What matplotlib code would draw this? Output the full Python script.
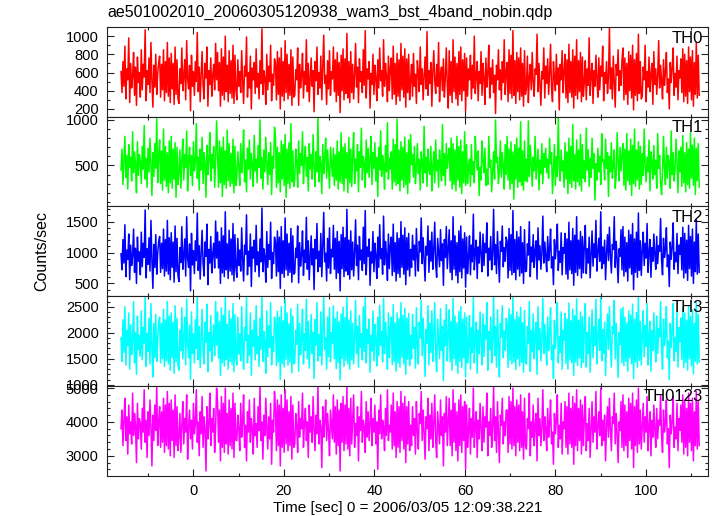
import numpy as np
import matplotlib
matplotlib.use("Agg")
from matplotlib import pyplot as plt
from matplotlib.ticker import MultipleLocator

plt.rcParams['font.family'] = ['Liberation Sans', 'DejaVu Sans']

# light curve bins: start time and bin width [sec]
t_start = -16.0
bin_size = 0.2133

title = "ae501002010_20060305120938_wam3_bst_4band_nobin.qdp"
xlabel = "Time [sec] 0 = 2006/03/05 12:09:38.221"
ylabel = "Counts/sec"

band_names = ["TH0", "TH1", "TH2", "TH3", "TH0123"]
band_colors = ["#ff0000", "#00ff00", "#0000ff", "#00ffff", "#ff00ff"]

th0 = [
    610, 380, 720, 450, 890, 310, 640, 520, 980, 270, 700, 430, 560, 820, 350, 660, 240, 770, 490, 600,
    330, 850, 410, 690, 550, 1070, 290, 620, 470, 760, 380, 930, 510, 220, 680, 440, 800, 360, 590, 710,
    780, 330, 690, 410, 850, 290, 720, 380, 930, 340, 760, 270, 810, 420, 700, 250, 880, 360, 740, 310,
    260, 640, 480, 870, 400, 560, 740, 300, 950, 530, 420, 680, 180, 790, 450, 610, 350, 720, 500, 1040,
    390, 660, 280, 580, 830, 460, 310, 700, 540, 880, 230, 620, 470, 760, 340, 570, 690, 410, 920, 520,
    820, 400, 710, 230, 860, 350, 770, 300, 1000, 390, 680, 280, 840, 370, 730, 320, 900, 260, 790, 410,
    300, 740, 450, 610, 380, 840, 500, 260, 670, 560, 990, 330, 600, 430, 780, 200, 650, 520, 710, 370,
    860, 440, 590, 310, 730, 480, 1080, 360, 620, 540, 250, 800, 410, 670, 500, 900, 290, 580, 460, 750,
    700, 300, 830, 360, 760, 200, 870, 340, 720, 290, 950, 380, 800, 310, 690, 350, 850, 240, 770, 330,
    350, 630, 520, 870, 240, 690, 430, 560, 810, 320, 610, 470, 960, 390, 700, 280, 540, 760, 450, 620,
    170, 720, 510, 880, 360, 600, 430, 780, 300, 650, 1010, 480, 570, 250, 730, 420, 840, 350, 610, 530,
    880, 390, 740, 280, 820, 350, 710, 160, 790, 400, 860, 300, 750, 370, 1030, 320, 720, 270, 830, 380,
    690, 310, 580, 920, 440, 660, 270, 750, 500, 610, 380, 850, 460, 1060, 320, 640, 530, 720, 210, 590,
    470, 800, 360, 680, 540, 290, 740, 430, 870, 510, 620, 340, 960, 450, 700, 560, 280, 780, 400, 650,
    760, 310, 890, 360, 700, 250, 810, 340, 740, 290, 920, 410, 780, 330, 860, 220, 750, 380, 800, 300,
    520, 690, 340, 810, 450, 580, 260, 730, 610, 390, 880, 470, 640, 300, 560, 770, 420, 1050, 350, 620,
    480, 710, 230, 600, 840, 510, 370, 690, 450, 930, 280, 580, 660, 400, 750, 330, 540, 870, 460, 210,
    840, 350, 720, 270, 960, 390, 770, 310, 700, 240, 830, 360, 880, 290, 740, 400, 810, 180, 760, 340,
    640, 520, 790, 310, 680, 430, 1000, 370, 560, 720, 290, 610, 480, 830, 350, 700, 540, 250, 760, 440,
    590, 900, 320, 650, 470, 740, 380, 570, 150, 680, 520, 850, 410, 630, 300, 720, 490, 960, 360, 600,
    710, 280, 850, 370, 790, 320, 1060, 350, 730, 260, 820, 390, 760, 300, 870, 340, 700, 230, 840, 360,
    440, 780, 270, 550, 690, 410, 820, 500, 340, 640, 580, 1020, 390, 700, 460, 240, 610, 530, 870, 320,
    670, 480, 750, 360, 590, 910, 430, 280, 720, 550, 400, 800, 470, 650, 190, 690, 520, 840, 380, 610,
    800, 320, 740, 270, 910, 380, 720, 330, 850, 210, 780, 350, 960, 310, 730, 390, 820, 280, 770, 340,
    500, 730, 300, 640, 460, 980, 350, 580, 700, 260, 620, 450, 790, 530, 330, 760, 410, 670, 560, 890,
    290, 600, 480, 720, 370, 540, 1090, 420, 650, 310, 780, 500, 220, 690, 570, 850, 400, 620, 460, 740,
    870, 300, 760, 360, 700, 250, 830, 400, 790, 320, 900, 190, 740, 350, 810, 290, 1020, 370, 720, 310,
    340, 660, 520, 900, 280, 610, 440, 770, 390, 580, 700, 250, 830, 470, 640, 360, 560, 950, 430, 680,
    510, 310, 740, 460, 600, 820, 380, 530, 200, 710, 490, 650, 870, 350, 590, 440, 780, 300, 620, 540,
    750, 380, 860, 280, 800, 340, 730, 260, 880, 390, 770, 300, 840, 230, 710, 360, 930, 320, 790, 350,
]

th1 = [
    450, 680, 290, 560, 820, 370, 610, 240, 730, 480, 590, 330, 870, 420, 650, 510, 200, 760, 390, 620,
    540, 300, 710, 460, 940, 350, 580, 260, 690, 430, 800, 520, 170, 640, 380, 740, 470, 1020, 310, 600,
    780, 300, 660, 230, 900, 340, 710, 270, 640, 200, 770, 310, 820, 250, 680, 350, 750, 150, 700, 290,
    410, 670, 250, 560, 790, 340, 620, 480, 880, 220, 550, 700, 390, 610, 280, 760, 440, 530, 960, 360,
    590, 230, 680, 450, 810, 300, 640, 520, 150, 720, 400, 570, 860, 330, 620, 470, 710, 260, 550, 990,
    640, 260, 770, 310, 700, 160, 810, 290, 660, 250, 890, 330, 740, 270, 630, 300, 790, 200, 710, 280,
    380, 650, 490, 280, 740, 420, 600, 890, 320, 560, 210, 690, 460, 780, 350, 630, 510, 270, 830, 440,
    570, 310, 720, 480, 1000, 360, 590, 240, 670, 430, 810, 520, 290, 640, 400, 750, 180, 600, 470, 920,
    810, 260, 700, 310, 640, 210, 770, 350, 730, 280, 840, 150, 680, 300, 750, 250, 960, 320, 660, 270,
    340, 680, 550, 260, 770, 410, 630, 500, 870, 300, 560, 710, 380, 590, 220, 740, 460, 620, 350, 840,
    490, 270, 650, 430, 1030, 320, 600, 520, 190, 730, 410, 580, 800, 360, 670, 450, 250, 700, 540, 380,
    690, 280, 620, 340, 770, 240, 650, 320, 860, 300, 700, 220, 740, 360, 640, 200, 810, 310, 680, 270,
    620, 860, 300, 570, 440, 730, 210, 650, 480, 910, 340, 600, 530, 260, 780, 420, 690, 370, 560, 820,
    290, 640, 470, 750, 330, 590, 160, 700, 450, 880, 380, 610, 510, 240, 720, 430, 970, 350, 580, 460,
    650, 240, 790, 320, 730, 280, 1010, 300, 670, 220, 760, 340, 700, 260, 810, 290, 640, 190, 780, 310,
    840, 510, 620, 370, 710, 300, 480, 740, 410, 570, 230, 650, 530, 310, 930, 420, 590, 270, 680, 460,
    400, 710, 220, 490, 650, 310, 780, 440, 560, 260, 670, 510, 330, 950, 390, 630, 280, 740, 470, 590,
    690, 330, 800, 240, 740, 290, 670, 220, 820, 340, 710, 260, 780, 190, 650, 310, 870, 280, 730, 300,
    490, 570, 270, 730, 400, 540, 310, 820, 600, 450, 660, 170, 480, 340, 770, 550, 420, 690, 280, 460,
    290, 820, 480, 560, 210, 420, 650, 350, 1000, 530, 590, 300, 460, 770, 370, 640, 500, 240, 730, 400,
    820, 340, 680, 240, 760, 300, 650, 130, 730, 350, 800, 260, 690, 320, 980, 280, 660, 230, 770, 330,
    570, 320, 990, 380, 720, 510, 270, 590, 440, 820, 350, 520, 680, 230, 560, 410, 740, 300, 630, 480,
    690, 420, 570, 360, 800, 520, 640, 190, 450, 730, 280, 600, 380, 1040, 490, 330, 670, 440, 550, 260,
    750, 350, 650, 190, 800, 300, 710, 260, 950, 330, 620, 240, 780, 320, 670, 280, 840, 220, 730, 360,
    550, 320, 910, 450, 670, 270, 580, 370, 800, 470, 630, 120, 520, 340, 690, 430, 600, 290, 850, 540,
    560, 340, 790, 470, 640, 160, 600, 430, 750, 360, 500, 670, 250, 390, 860, 540, 330, 700, 440, 620,
    740, 280, 680, 230, 850, 330, 660, 290, 790, 170, 720, 300, 900, 270, 670, 340, 760, 240, 710, 290,
    630, 390, 900, 510, 320, 590, 430, 780, 220, 650, 530, 350, 720, 400, 560, 250, 850, 470, 610, 300,
    180, 420, 820, 490, 290, 700, 360, 610, 530, 250, 880, 400, 640, 330, 460, 790, 550, 200, 660, 430,
    700, 270, 830, 310, 640, 210, 750, 290, 680, 250, 860, 360, 720, 280, 800, 180, 690, 330, 740, 260,
]

th2 = [
    980, 720, 1210, 830, 1450, 610, 1040, 890, 1300, 560, 1120, 790, 950, 1380, 680, 1070, 500, 1250, 860, 1010,
    640, 1330, 770, 1150, 920, 1690, 590, 1060, 810, 1240, 700, 1520, 880, 420, 1130, 760, 1290, 650, 990, 1180,
    1260, 680, 1150, 740, 1380, 620, 1210, 700, 1520, 650, 1240, 560, 1320, 760, 1170, 520, 1430, 690, 1230, 630,
    530, 1080, 840, 1420, 730, 960, 1220, 620, 1580, 900, 760, 1140, 380, 1310, 800, 1030, 660, 1190, 870, 1640,
    710, 1110, 570, 1000, 1360, 820, 620, 1170, 940, 1460, 480, 1050, 830, 1260, 670, 980, 1150, 750, 1510, 910,
    1330, 750, 1180, 500, 1400, 670, 1270, 610, 1660, 720, 1140, 580, 1360, 700, 1220, 640, 1470, 540, 1290, 760,
    600, 1230, 790, 1040, 700, 1400, 880, 540, 1120, 970, 1610, 640, 1020, 780, 1300, 450, 1090, 910, 1200, 690,
    1440, 800, 1010, 610, 1220, 850, 1720, 690, 1060, 930, 520, 1340, 760, 1130, 890, 1490, 580, 1000, 820, 1250,
    1170, 620, 1350, 690, 1250, 420, 1420, 660, 1190, 600, 1560, 720, 1300, 630, 1150, 680, 1390, 520, 1270, 650,
    670, 1070, 920, 1430, 510, 1160, 780, 960, 1350, 630, 1040, 840, 1570, 730, 1190, 560, 940, 1270, 800, 1060,
    400, 1210, 900, 1470, 690, 1020, 770, 1310, 610, 1100, 1650, 850, 990, 540, 1230, 750, 1400, 660, 1050, 930,
    1440, 730, 1230, 580, 1340, 670, 1180, 380, 1290, 740, 1410, 610, 1240, 700, 1700, 640, 1200, 570, 1350, 720,
    1170, 620, 1000, 1530, 790, 1120, 560, 1260, 880, 1040, 710, 1410, 820, 1680, 640, 1090, 940, 1220, 470, 1010,
    830, 1340, 690, 1150, 950, 580, 1250, 760, 1450, 900, 1060, 650, 1590, 800, 1180, 970, 550, 1300, 740, 1110,
    1250, 630, 1460, 690, 1160, 540, 1320, 660, 1230, 600, 1500, 760, 1280, 650, 1400, 480, 1240, 720, 1310, 620,
    1050, 760, 1280, 880, 1120, 620, 1390, 940, 700, 1180, 1010, 1560, 820, 1240, 900, 540, 1100, 960, 1430, 680,
    1190, 860, 1330, 730, 1040, 1490, 810, 600, 1230, 990, 770, 1370, 870, 1140, 470, 1210, 920, 1420, 740, 1060,
    1370, 680, 1190, 560, 1580, 730, 1270, 630, 1160, 510, 1350, 690, 1430, 590, 1220, 750, 1320, 440, 1250, 660,
    930, 1270, 640, 1120, 850, 1620, 720, 1010, 1200, 580, 1090, 830, 1330, 960, 690, 1300, 790, 1150, 1000, 1480,
    620, 1070, 880, 1260, 720, 980, 1700, 800, 1130, 660, 1340, 910, 520, 1180, 1020, 1430, 770, 1080, 860, 1250,
    1180, 590, 1390, 710, 1290, 640, 1680, 680, 1210, 560, 1340, 730, 1250, 620, 1420, 670, 1160, 500, 1370, 690,
    700, 1140, 960, 1500, 610, 1090, 850, 1290, 760, 1030, 1190, 570, 1400, 880, 1110, 730, 990, 1590, 830, 1170,
    950, 690, 1260, 870, 1050, 1380, 750, 930, 480, 1210, 900, 1100, 1460, 710, 1020, 840, 1320, 640, 1080, 990,
    1310, 650, 1220, 570, 1490, 720, 1190, 660, 1390, 470, 1280, 680, 1580, 630, 1200, 740, 1340, 590, 1260, 670,
    1120, 1440, 660, 1060, 830, 1250, 590, 980, 1350, 780, 1140, 920, 1520, 700, 1010, 1230, 860, 1660, 740, 1090,
    820, 1200, 560, 1000, 1290, 870, 1410, 950, 670, 1130, 1050, 1580, 760, 1180, 890, 510, 1060, 940, 1370, 720,
    1420, 620, 1250, 690, 1160, 540, 1360, 750, 1290, 650, 1470, 400, 1220, 680, 1330, 600, 1640, 710, 1190, 630,
    1030, 1330, 790, 1150, 910, 1470, 680, 1000, 1210, 600, 1080, 860, 1300, 980, 730, 1260, 820, 1110, 1020, 1550,
    880, 640, 1230, 920, 1040, 1400, 770, 960, 450, 1170, 890, 1090, 1480, 730, 1000, 850, 1310, 660, 1120, 970,
    1240, 720, 1410, 590, 1310, 670, 1200, 550, 1440, 740, 1260, 620, 1380, 500, 1170, 690, 1530, 650, 1300, 680,
]

th3 = [
    1900, 1450, 2250, 1620, 2500, 1380, 2050, 1750, 2380, 1300, 2150, 1580, 1850, 2600, 1420, 2000, 1200, 2320, 1680, 1950,
    1550, 2420, 1480, 2100, 1800, 2700, 1350, 1980, 1640, 2280, 1400, 2560, 1720, 1150, 2180, 1520, 2350, 1450, 1880, 2200,
    2300, 1420, 2180, 1500, 2450, 1350, 2250, 1460, 2600, 1400, 2320, 1280, 2380, 1530, 2200, 1220, 2520, 1440, 2280, 1380,
    1280, 2050, 1660, 2480, 1500, 1920, 2300, 1380, 2650, 1780, 1520, 2150, 1100, 2400, 1600, 1980, 1420, 2250, 1700, 2690,
    1480, 2120, 1330, 1900, 2450, 1620, 1400, 2200, 1820, 2550, 1250, 2000, 1650, 2330, 1450, 1880, 2150, 1560, 2600, 1760,
    2400, 1510, 2220, 1180, 2480, 1420, 2330, 1360, 2700, 1480, 2160, 1300, 2420, 1450, 2260, 1390, 2560, 1250, 2350, 1520,
    1380, 2300, 1590, 1980, 1460, 2500, 1720, 1300, 2100, 1850, 2680, 1420, 1950, 1570, 2380, 1180, 2050, 1740, 2240, 1480,
    2520, 1600, 1920, 1350, 2280, 1680, 2700, 1450, 2020, 1800, 1220, 2420, 1540, 2130, 1720, 2580, 1380, 1920, 1640, 2300,
    2200, 1370, 2410, 1440, 2300, 1100, 2500, 1410, 2230, 1340, 2640, 1490, 2380, 1380, 2170, 1440, 2460, 1230, 2320, 1400,
    1440, 2050, 1780, 2550, 1260, 2180, 1580, 1860, 2450, 1400, 1980, 1660, 2640, 1500, 2220, 1320, 1820, 2350, 1600, 2000,
    1120, 2250, 1760, 2580, 1460, 1960, 1560, 2400, 1380, 2080, 2700, 1680, 1900, 1300, 2300, 1540, 2480, 1440, 2000, 1800,
    2520, 1500, 2270, 1310, 2400, 1430, 2210, 1090, 2360, 1510, 2490, 1350, 2290, 1460, 2720, 1400, 2240, 1300, 2420, 1480,
    2180, 1400, 1920, 2620, 1600, 2120, 1340, 2330, 1720, 1980, 1480, 2500, 1640, 2700, 1420, 2060, 1800, 2260, 1240, 1950,
    1650, 2420, 1460, 2160, 1840, 1360, 2300, 1560, 2530, 1760, 2020, 1440, 2660, 1600, 2200, 1880, 1300, 2380, 1520, 2100,
    2300, 1390, 2540, 1450, 2190, 1260, 2380, 1420, 2270, 1340, 2580, 1530, 2330, 1400, 2470, 1200, 2280, 1490, 2370, 1370,
    1950, 1500, 2350, 1700, 2100, 1320, 2480, 1780, 1400, 2200, 1900, 2620, 1560, 2280, 1720, 1160, 2060, 1800, 2520, 1380,
    2180, 1620, 2420, 1450, 1980, 2580, 1560, 1250, 2260, 1860, 1500, 2460, 1660, 2120, 1080, 2240, 1750, 2540, 1460, 2000,
    2440, 1440, 2220, 1280, 2660, 1500, 2320, 1380, 2190, 1220, 2410, 1450, 2500, 1330, 2260, 1520, 2380, 1150, 2300, 1420,
    1760, 2330, 1300, 2100, 1620, 2690, 1420, 1900, 2200, 1220, 2050, 1600, 2400, 1820, 1380, 2360, 1540, 2140, 1880, 2580,
    1280, 2020, 1680, 2300, 1420, 1860, 2720, 1560, 2120, 1340, 2440, 1740, 1150, 2180, 1920, 2520, 1520, 2030, 1660, 2280,
    2210, 1330, 2460, 1470, 2350, 1400, 2710, 1440, 2250, 1290, 2400, 1500, 2300, 1360, 2490, 1430, 2190, 1240, 2430, 1450,
    1400, 2120, 1800, 2600, 1260, 2040, 1640, 2360, 1500, 1940, 2200, 1200, 2500, 1680, 2080, 1460, 1880, 2660, 1600, 2160,
    1800, 1380, 2300, 1660, 1980, 2480, 1480, 1760, 1120, 2240, 1700, 2060, 2580, 1420, 1920, 1620, 2400, 1300, 2040, 1860,
    2370, 1410, 2260, 1300, 2570, 1480, 2230, 1420, 2450, 1180, 2330, 1440, 2650, 1370, 2240, 1510, 2400, 1330, 2310, 1430,
    2100, 2560, 1340, 2000, 1600, 2300, 1240, 1860, 2440, 1520, 2120, 1760, 2640, 1400, 1900, 2260, 1660, 2700, 1460, 2060,
    1600, 2200, 1180, 1900, 2360, 1680, 2500, 1800, 1340, 2120, 1980, 2620, 1500, 2180, 1720, 1140, 2000, 1780, 2460, 1420,
    2490, 1370, 2300, 1450, 2190, 1260, 2420, 1520, 2340, 1400, 2550, 1120, 2260, 1440, 2390, 1340, 2690, 1470, 2220, 1380,
    1940, 2420, 1540, 2140, 1740, 2560, 1380, 1900, 2220, 1260, 2040, 1660, 2380, 1860, 1440, 2320, 1600, 2080, 1920, 2600,
    1700, 1300, 2260, 1760, 1960, 2500, 1520, 1840, 1100, 2180, 1720, 2040, 2560, 1460, 1900, 1640, 2400, 1340, 2100, 1820,
    2280, 1490, 2480, 1330, 2380, 1430, 2240, 1280, 2520, 1500, 2310, 1360, 2440, 1210, 2180, 1450, 2600, 1400, 2350, 1440,
]

th0123 = [
    3800, 4350, 3300, 4050, 4700, 3450, 4150, 3050, 4500, 3650, 4000, 3350, 4850, 3600, 4250, 3900, 2800, 4550, 3500, 4100,
    3950, 3200, 4400, 3700, 4950, 3400, 4050, 2950, 4300, 3600, 4650, 3850, 2700, 4200, 3450, 4500, 3750, 5050, 3300, 4000,
    4450, 3250, 4300, 3400, 4700, 3100, 4500, 3300, 4900, 3200, 4550, 3000, 4650, 3450, 4350, 2950, 4800, 3300, 4450, 3150,
    3550, 4250, 3100, 3900, 4600, 3350, 4100, 3700, 4800, 2900, 3850, 4350, 3500, 4050, 3200, 4550, 3650, 3950, 4950, 3400,
    4000, 3000, 4300, 3650, 4750, 3250, 4150, 3800, 2550, 4450, 3500, 3950, 4850, 3300, 4100, 3700, 4400, 3100, 3850, 5000,
    4600, 3400, 4350, 2850, 4750, 3250, 4550, 3100, 5000, 3350, 4250, 3050, 4650, 3300, 4400, 3200, 4850, 2950, 4550, 3450,
    3450, 4200, 3800, 3150, 4550, 3550, 4000, 4800, 3250, 3900, 2850, 4300, 3700, 4650, 3400, 4100, 3800, 3050, 4700, 3600,
    3950, 3250, 4450, 3750, 5050, 3450, 4000, 2900, 4200, 3600, 4700, 3850, 3200, 4150, 3500, 4550, 2750, 4050, 3700, 4900,
    4350, 3150, 4650, 3300, 4500, 2700, 4800, 3250, 4400, 3100, 4950, 3350, 4650, 3150, 4300, 3300, 4750, 2900, 4500, 3250,
    3350, 4250, 3900, 3100, 4600, 3550, 4100, 3800, 4850, 3250, 3950, 4400, 3450, 4000, 2950, 4500, 3700, 4150, 3400, 4750,
    3800, 3150, 4200, 3650, 5050, 3350, 4050, 3850, 2650, 4450, 3550, 4000, 4650, 3450, 4250, 3700, 3000, 4350, 3900, 3500,
    4800, 3400, 4450, 3050, 4650, 3300, 4350, 2550, 4550, 3400, 4750, 3150, 4500, 3350, 5050, 3200, 4400, 3000, 4700, 3350,
    4100, 4800, 3250, 3950, 3600, 4450, 2850, 4150, 3750, 4900, 3400, 4050, 3850, 3100, 4600, 3550, 4300, 3450, 3950, 4700,
    3300, 4100, 3700, 4500, 3350, 4000, 2600, 4350, 3650, 4800, 3500, 4050, 3850, 3150, 4400, 3600, 4950, 3450, 3900, 3700,
    4500, 3200, 4850, 3300, 4300, 2950, 4600, 3250, 4450, 3100, 4900, 3450, 4550, 3200, 4750, 2800, 4450, 3350, 4600, 3150,
    3900, 3300, 4450, 3600, 4100, 3050, 4600, 3750, 3200, 4250, 3950, 4900, 3450, 4350, 3700, 2900, 4150, 3800, 4700, 3150,
    4200, 3500, 4550, 3250, 3950, 4800, 3450, 2950, 4300, 3850, 3350, 4650, 3600, 4150, 2700, 4250, 3700, 4750, 3300, 4000,
    4700, 3300, 4350, 3000, 4950, 3400, 4550, 3150, 4300, 2850, 4650, 3300, 4800, 3100, 4450, 3450, 4600, 2600, 4500, 3250,
    3750, 4400, 3050, 4100, 3550, 5000, 3250, 3900, 4300, 2950, 4050, 3500, 4550, 3800, 3150, 4450, 3400, 4150, 3850, 4850,
    3000, 4000, 3600, 4400, 3250, 3850, 5050, 3450, 4150, 3100, 4600, 3700, 2800, 4200, 3900, 4700, 3350, 4000, 3600, 4350,
    4350, 3100, 4750, 3350, 4600, 3200, 5000, 3300, 4450, 3000, 4650, 3400, 4500, 3150, 4800, 3250, 4300, 2900, 4700, 3300,
    3200, 4100, 3800, 4850, 3000, 4000, 3550, 4500, 3300, 3900, 4250, 2850, 4700, 3600, 4100, 3300, 3850, 4950, 3450, 4150,
    3800, 3150, 4400, 3550, 3950, 4650, 3350, 3700, 2750, 4250, 3650, 4050, 4800, 3250, 3900, 3500, 4550, 3050, 4000, 3800,
    4600, 3250, 4450, 3050, 4850, 3350, 4400, 3250, 4750, 2750, 4550, 3300, 4950, 3150, 4400, 3450, 4650, 3050, 4500, 3300,
    4100, 4750, 3150, 3950, 3450, 4400, 2950, 3800, 4600, 3400, 4150, 3700, 4900, 3200, 3850, 4300, 3600, 5000, 3300, 4050,
    3450, 4200, 2850, 3900, 4450, 3550, 4700, 3800, 3150, 4150, 3950, 4850, 3350, 4250, 3650, 2800, 4000, 3750, 4600, 3250,
    4800, 3150, 4500, 3300, 4300, 2950, 4700, 3450, 4550, 3200, 4850, 2650, 4450, 3300, 4650, 3100, 5000, 3350, 4350, 3200,
    3900, 4550, 3400, 4150, 3700, 4750, 3150, 3850, 4300, 3000, 4050, 3550, 4500, 3800, 3250, 4400, 3500, 4050, 3900, 4800,
    3600, 3100, 4350, 3700, 3950, 4650, 3350, 3800, 2650, 4200, 3650, 4000, 4750, 3250, 3850, 3500, 4550, 3150, 4100, 3750,
    4500, 3400, 4800, 3050, 4650, 3250, 4400, 3000, 4850, 3400, 4550, 3150, 4700, 2850, 4300, 3300, 4900, 3200, 4600, 3300,
]

band_values = [th0, th1, th2, th3, th0123]

# axis ranges and tick steps (major, minor) per panel
xlim = (-19.1, 113.6)
ylims = [(115, 1100), (50, 1036), (295, 1747), (980, 2704), (2417, 5068)]
ysteps = [(200, 100), (500, 100), (500, 100), (500, 100), (1000, 200)]

W, H = 717, 516
fig = plt.figure(figsize=(W / 100, H / 100), dpi=100)
gs = fig.add_gridspec(5, 1, left=107 / W, right=707.5 / W, top=1 - 27 / H,
                      bottom=1 - 475.5 / H, hspace=0)

axes = []
for i in range(5):
    vals = band_values[i]
    time = t_start + bin_size * np.arange(len(vals))
    ax = fig.add_subplot(gs[i])
    ax.plot(time, vals, '-', color=band_colors[i], lw=1.1)
    ax.set_xlim(*xlim)
    ax.set_ylim(*ylims[i])
    ax.xaxis.set_major_locator(MultipleLocator(20))
    ax.xaxis.set_minor_locator(MultipleLocator(10))
    ax.yaxis.set_major_locator(MultipleLocator(ysteps[i][0]))
    ax.yaxis.set_minor_locator(MultipleLocator(ysteps[i][1]))
    ax.tick_params(which='both', direction='in', top=True, right=True,
                   width=0.8, labelsize=10.5, pad=6, color='#222222')
    ax.tick_params(which='major', length=5)
    ax.tick_params(which='minor', length=2.5)
    for s in ax.spines.values():
        s.set_linewidth(0.8)
        s.set_color('#222222')
    if i < 4:
        ax.tick_params(labelbottom=False)
    ax.text(0.993, 0.96, band_names[i], transform=ax.transAxes,
            ha='right', va='top', fontsize=12)
    axes.append(ax)

fig.text(107 / W, 1 - 12 / H, title, ha='left', va='center', fontsize=11.5)
fig.text(42 / W, 1 - 251 / H, ylabel, ha='center', va='center',
         rotation=90, fontsize=11.5)
fig.text(408 / W, 1 - 508 / H, xlabel, ha='center', va='center', fontsize=11)

fig.savefig("out.png", dpi=100)
